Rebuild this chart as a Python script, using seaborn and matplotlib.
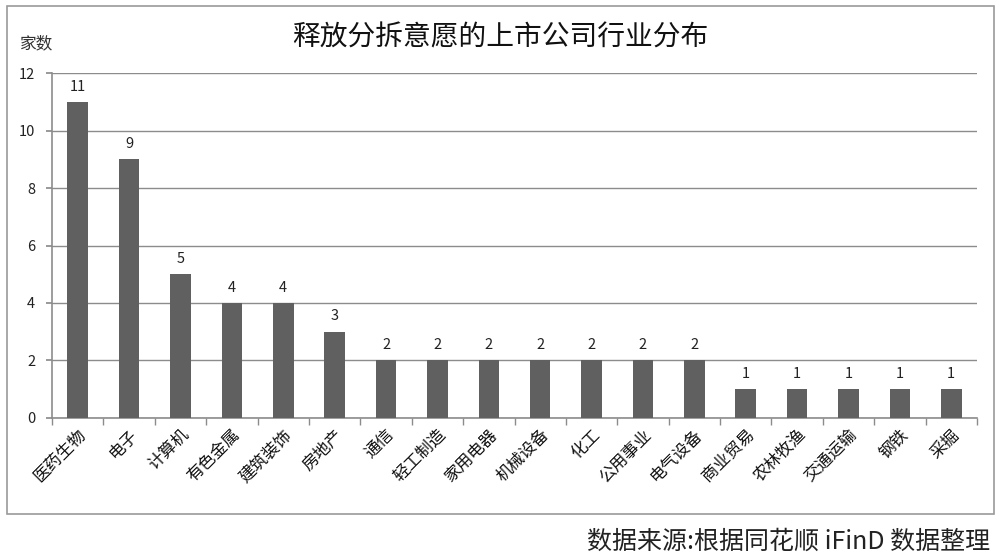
import matplotlib
matplotlib.use("Agg")
import matplotlib.pyplot as plt
import seaborn as sns
import numpy as np
import pandas as pd
from matplotlib.patches import Rectangle

categories = ["医药生物", "电子", "计算机", "有色金属", "建筑装饰", "房地产", "通信", "轻工制造",
              "家用电器", "机械设备", "化工", "公用事业", "电气设备", "商业贸易", "农林牧渔",
              "交通运输", "钢铁", "采掘"]
values = [11, 9, 5, 4, 4, 3, 2, 2, 2, 2, 2, 2, 2, 1, 1, 1, 1, 1]
yticks = [0, 2, 4, 6, 8, 10, 12]

sns.set_theme(style="white")
plt.rcParams['font.family'] = ['Noto Sans CJK SC', 'DejaVu Sans']

fig = plt.figure(figsize=(10, 5.58), dpi=100)
ax = fig.add_axes([0.052, 0.251, 0.925, 0.618])

df = pd.DataFrame({"cat": categories, "val": values})
sns.barplot(data=df, x="cat", y="val", color="#606060", saturation=1, width=0.4, ax=ax,
            zorder=3, linewidth=0, edgecolor="none")

ax.set_ylim(0, 12)
ax.set_yticks(yticks)
ax.set_yticklabels([str(v) for v in yticks], fontsize=10.5, color="#222222")
ax.set_xlim(-0.5, len(categories) - 0.5)
ax.yaxis.grid(True, color="#8c8c8c", linewidth=1, zorder=0)
ax.set_axisbelow(True)

for s in ["top", "right"]:
    ax.spines[s].set_visible(False)
for s in ["left", "bottom"]:
    ax.spines[s].set_color("#8c8c8c")
    ax.spines[s].set_linewidth(1.2)

ax.set_xlabel("")
ax.set_ylabel("")
ax.tick_params(axis="y", which="major", length=4, color="#8c8c8c", direction="out", left=True, pad=8)
ax.tick_params(axis="x", which="major", length=0, pad=6)
ax.set_xticks(np.arange(-0.5, len(categories), 1.0), minor=True)
ax.tick_params(axis="x", which="minor", length=5, color="#8c8c8c", direction="out", bottom=True)
ax.set_xticklabels(categories, rotation=45, ha="right", rotation_mode="anchor", fontsize=12, color="#111111")

for c in ax.containers:
    ax.bar_label(c, labels=[str(v) for v in values], padding=6, fontsize=10.5, color="#222222")

fig.text(0.5, 0.933, "释放分拆意愿的上市公司行业分布", ha="center", va="center", fontsize=20, color="#111111")
fig.text(0.02, 0.921, "家数", ha="left", va="center", fontsize=12, color="#333333")
fig.text(0.99, 0.030, "数据来源:根据同花顺 iFinD 数据整理", ha="right", va="center", fontsize=18, color="#222222")

fig.patches.append(Rectangle((0.007, 0.079), 0.987, 0.91, transform=fig.transFigure,
                             fill=False, edgecolor="#9a9a9a", linewidth=1.2))

fig.savefig("out.png", dpi=100, facecolor="white")
